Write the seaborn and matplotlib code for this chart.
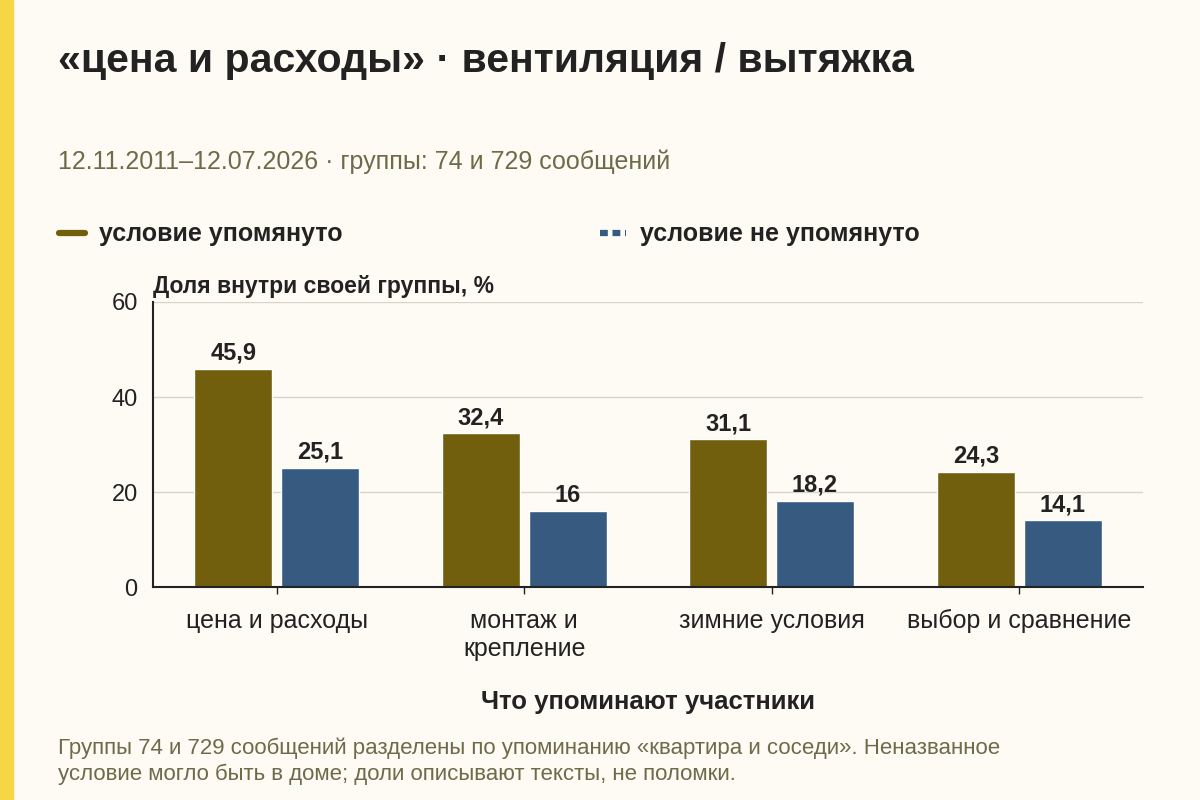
import pandas as pd
import seaborn as sns
import matplotlib.pyplot as plt
from matplotlib.lines import Line2D
from matplotlib.patches import Rectangle

# данные с картинки
categories = ["цена и расходы", "монтаж и\nкрепление", "зимние условия", "выбор и сравнение"]
upomyanuto = [45.9, 32.4, 31.1, 24.3]
ne_upomyanuto = [25.1, 16.0, 18.2, 14.1]
groups = ["условие упомянуто", "условие не упомянуто"]
y_ticks = [0, 20, 40, 60]

bg = "#FDFBF3"
olive = "#715F0E"
blue = "#365A80"
text_dark = "#222222"
text_muted = "#6E6A4A"

sns.set_theme(style="white")
plt.rcParams["font.family"] = ["Liberation Sans", "DejaVu Sans"]

df = pd.DataFrame({
    "категория": categories * 2,
    "группа": [groups[0]] * 4 + [groups[1]] * 4,
    "доля": upomyanuto + ne_upomyanuto,
})

fig = plt.figure(figsize=(12, 8), dpi=100, facecolor=bg)
ax = fig.add_axes([0.1275, 0.266, 0.825, 0.3565])
ax.set_facecolor(bg)

sns.barplot(data=df, x="категория", y="доля", hue="группа", order=categories,
            hue_order=groups, palette=[olive, blue], width=0.7, gap=0.1,
            legend=False, ax=ax, saturation=1)

ax.set_ylim(0, 60)
ax.set_xlim(-0.5, 3.5)
ax.set_yticks(y_ticks)
ax.yaxis.grid(True, color="#D5D3CB", linewidth=1)
ax.set_axisbelow(True)
for s in ["top", "right"]:
    ax.spines[s].set_visible(False)
ax.spines["left"].set_color(text_dark)
ax.spines["bottom"].set_color(text_dark)
ax.spines["left"].set_linewidth(1.5)
ax.spines["bottom"].set_linewidth(1.5)
ax.tick_params(axis="y", length=0, labelsize=17, colors=text_dark, pad=11)
ax.tick_params(axis="x", length=5, width=1, labelsize=18, colors=text_dark, pad=11, bottom=True)
ax.set_ylabel("")
ax.set_xlabel("Что упоминают участники", fontsize=18.5, fontweight="bold",
              color=text_dark, labelpad=21)

def fmt(v):
    s = f"{v:.1f}".replace(".", ",")
    return s[:-2] if s.endswith(",0") else s

for cont, vals in zip(ax.containers, [upomyanuto, ne_upomyanuto]):
    ax.bar_label(cont, labels=[fmt(v) for v in vals], padding=3,
                 fontsize=17, fontweight="bold", color=text_dark)

ax.text(0, 1.015, "Доля внутри своей группы, %", transform=ax.transAxes,
        fontsize=16.5, fontweight="bold", color=text_dark, ha="left", va="bottom")

# жёлтая полоса слева
fig.patches.append(Rectangle((0, 0), 0.011, 1, transform=fig.transFigure,
                             color="#F7D646", zorder=0))

fig.text(0.048, 0.924, "«цена и расходы» · вентиляция / вытяжка", fontsize=29.5,
         fontweight="bold", color=text_dark, ha="left", va="center")
fig.text(0.048, 0.798, "12.11.2011–12.07.2026 · группы: 74 и 729 сообщений",
         fontsize=18, color=text_muted, ha="left", va="center")

handles = [Line2D([0], [0], color=olive, lw=4.5),
           Line2D([0], [0], color=blue, lw=4.5, linestyle=(0, (1.25, 0.75)))]
fig.legend(handles, groups, loc="center left", bbox_to_anchor=(0.0305, 0.707),
           ncol=2, frameon=False, handlelength=1.04, handletextpad=0.55,
           columnspacing=10.3, prop={"size": 18, "weight": "bold"},
           labelcolor=text_dark)

fig.text(0.048, 0.048,
         "Группы 74 и 729 сообщений разделены по упоминанию «квартира и соседи». Неназванное\n"
         "условие могло быть в доме; доли описывают тексты, не поломки.",
         fontsize=16, color=text_muted, ha="left", va="center", linespacing=1.3)

fig.savefig("out.png", dpi=100, facecolor=bg)
